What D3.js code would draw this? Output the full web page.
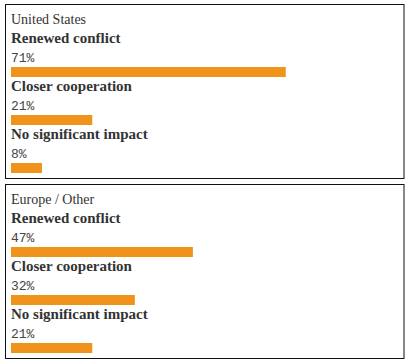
<!DOCTYPE html>
<html>
<head>
<meta charset="utf-8">
<script src="https://cdn.jsdelivr.net/npm/d3@7"></script>
<style>
  html, body { margin: 0; padding: 0; background: #fff; }
  svg { display: block; }
</style>
</head>
<body>
<svg id="chart" width="409" height="364"></svg>
<script>
const panelTitles = ["United States", "Europe / Other"];
const categories = ["Renewed conflict", "Closer cooperation", "No significant impact"];
const usValues = [71, 21, 8];
const europeValues = [47, 32, 21];
const panels = [
  { title: panelTitles[0], values: usValues },
  { title: panelTitles[1], values: europeValues }
];

const svg = d3.select("#chart");
const panelX = 5.5, panelW = 398.5, panelH = 174, panelStep = 180, panelTop = 4.5;
const x = d3.scaleLinear().domain([0, 100]).range([0, 387]);
const y = d3.scaleBand().domain(categories).range([0, 144]).paddingInner(0).paddingOuter(0);

panels.forEach((p, i) => {
  const g = svg.append("g").attr("transform", `translate(0,${panelTop + i * panelStep})`);
  g.append("rect")
    .attr("x", panelX).attr("y", 0)
    .attr("width", panelW).attr("height", panelH)
    .attr("fill", "#fff").attr("stroke", "#111").attr("stroke-width", 1);
  g.append("text")
    .attr("x", 11).attr("y", 19.5)
    .attr("font-family", "Liberation Serif, serif")
    .attr("font-size", 14)
    .attr("fill", "#333")
    .text(p.title);
  const rows = g.selectAll("g.row").data(categories.map((c, j) => ({ c, v: p.values[j] })))
    .join("g").attr("class", "row")
    .attr("transform", d => `translate(11,${y(d.c) + 24.5})`);
  rows.append("text")
    .attr("x", 0).attr("y", 14)
    .attr("font-family", "Liberation Serif, serif")
    .attr("font-weight", "bold")
    .attr("font-size", 15)
    .attr("fill", "#333")
    .text(d => d.c);
  rows.append("text")
    .attr("x", 0).attr("y", 33)
    .attr("font-family", "Liberation Mono, monospace")
    .attr("font-size", 13)
    .attr("fill", "#444")
    .text(d => d.v + "%");
  rows.append("rect")
    .attr("x", x(0)).attr("y", 38)
    .attr("width", d => x(d.v)).attr("height", 10)
    .attr("fill", "#F0931A");
});
</script>
</body>
</html>
